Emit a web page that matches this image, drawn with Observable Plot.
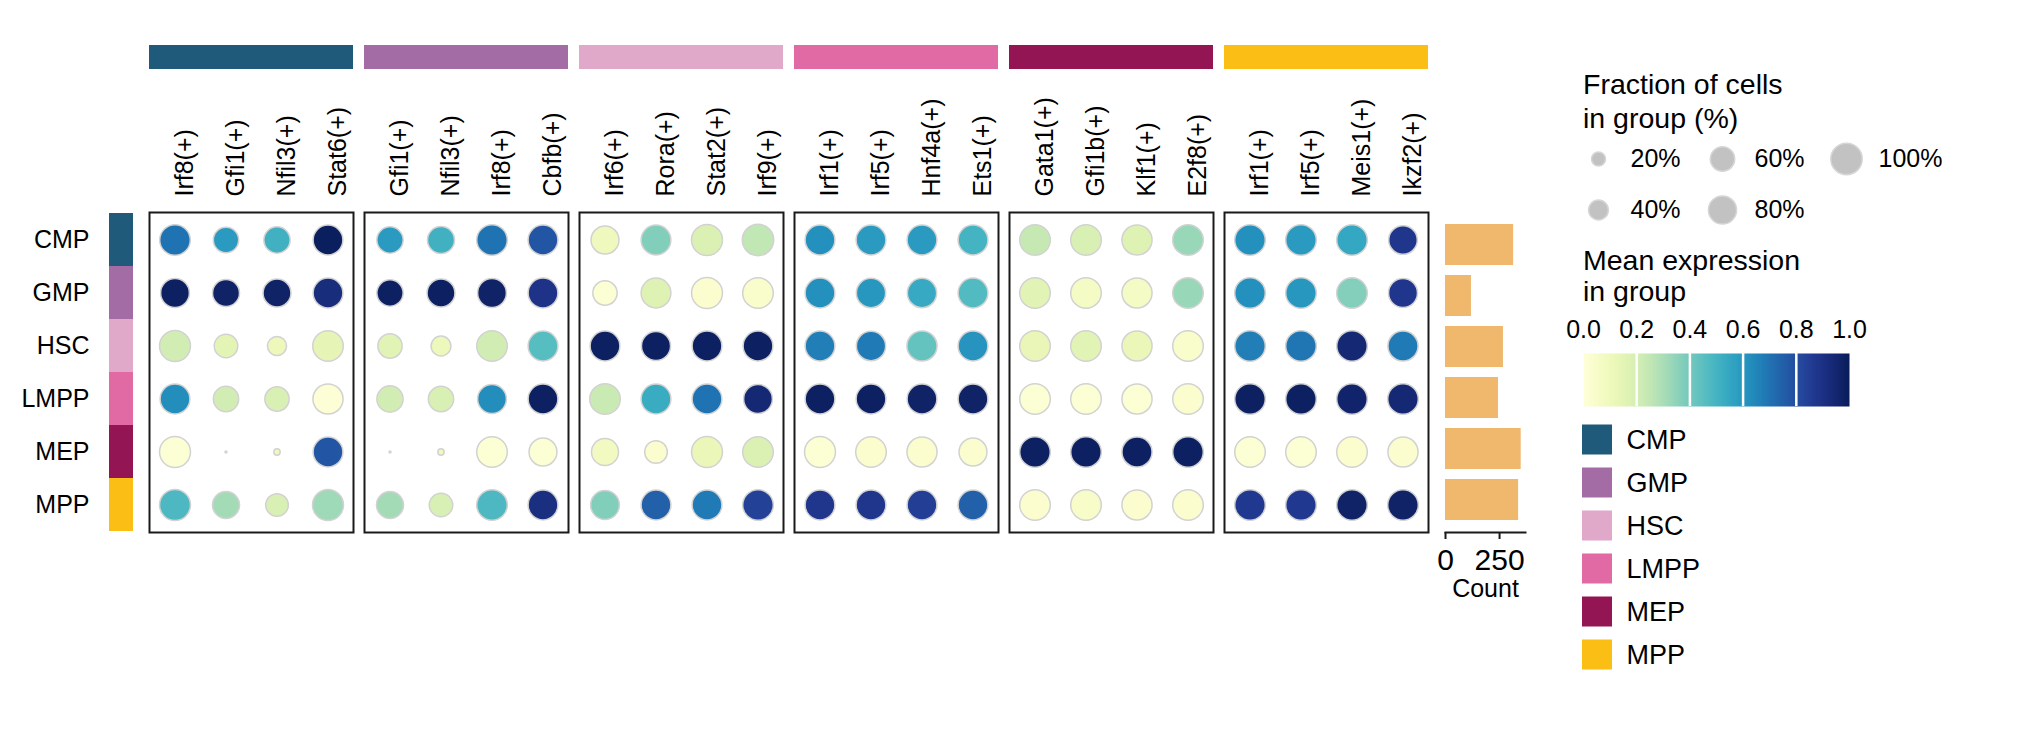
<!DOCTYPE html>
<html><head><meta charset="utf-8">
<script src="https://cdn.jsdelivr.net/npm/d3@7"></script>
<script src="https://cdn.jsdelivr.net/npm/@observablehq/plot@0.6"></script>
<style>
body{margin:0;background:#fff;font-family:"Liberation Sans",Arial,sans-serif;}
#wrap{position:relative;width:2019px;height:745px;overflow:hidden;background:#fff;}
#wrap > *{position:absolute;}
.title{font-size:28.5px;line-height:34px;color:#000;white-space:nowrap;}
</style></head><body><div id="wrap"></div>
<script>
// ---------- data ----------
const cellTypes = ["CMP","GMP","HSC","LMPP","MEP","MPP"];
const groupColors = ["#1f5a7a","#a46ca5","#e0a8c9","#e26aa4","#941553","#fbbe14"];

const genesCMP  = ["Irf8(+)","Gfi1(+)","Nfil3(+)","Stat6(+)"];
const genesGMP  = ["Gfi1(+)","Nfil3(+)","Irf8(+)","Cbfb(+)"];
const genesHSC  = ["Irf6(+)","Rora(+)","Stat2(+)","Irf9(+)"];
const genesLMPP = ["Irf1(+)","Irf5(+)","Hnf4a(+)","Ets1(+)"];
const genesMEP  = ["Gata1(+)","Gfi1b(+)","Klf1(+)","E2f8(+)"];
const genesMPP  = ["Irf1(+)","Irf5(+)","Meis1(+)","Ikzf2(+)"];

// mean expression, rows = cellTypes, cols = genes of the group
const exprCMP  = [[0.70,0.59,0.51,0.99],[0.98,0.97,0.97,0.92],[0.21,0.15,0.11,0.14],[0.63,0.21,0.19,0.01],[0.02,0.10,0.10,0.78],[0.48,0.31,0.19,0.32]];
const exprGMP  = [[0.59,0.51,0.70,0.78],[0.98,0.98,0.97,0.89],[0.16,0.11,0.21,0.46],[0.21,0.19,0.63,0.98],[0.10,0.10,0.02,0.02],[0.31,0.19,0.48,0.91]];
const exprHSC  = [[0.10,0.375,0.18,0.25],[0.02,0.17,0.03,0.04],[0.98,0.98,0.98,0.98],[0.23,0.53,0.70,0.94],[0.08,0.03,0.12,0.18],[0.375,0.75,0.68,0.84]];
const exprLMPP = [[0.62,0.59,0.59,0.50],[0.62,0.60,0.54,0.47],[0.67,0.68,0.43,0.61],[0.98,0.98,0.97,0.97],[0.02,0.03,0.03,0.03],[0.88,0.88,0.85,0.75]];
const exprMEP  = [[0.24,0.19,0.17,0.33],[0.16,0.07,0.07,0.33],[0.13,0.16,0.12,0.04],[0.02,0.02,0.02,0.03],[0.98,0.98,0.98,0.98],[0.03,0.05,0.03,0.03]];
const exprMPP  = [[0.62,0.59,0.55,0.88],[0.62,0.60,0.37,0.88],[0.67,0.69,0.94,0.68],[0.98,0.98,0.96,0.94],[0.02,0.02,0.03,0.03],[0.87,0.87,0.97,0.97]];

// fraction of cells (%)
const fracCMP  = [[95,65,70,90],[84,74,79,90],[97,56,37,95],[90,65,60,92],[97,0.4,4,90],[97,74,52,97]];
const fracGMP  = [[70,74,95,90],[70,79,84,90],[60,40,95,90],[70,65,84,90],[0.4,4,95,79],[74,56,95,90]];
const fracHSC  = [[79,90,97,100],[60,90,97,95],[90,86,90,90],[95,90,90,84],[74,52,97,95],[84,90,90,95]];
const fracLMPP = [[90,90,90,90],[90,87,87,90],[90,87,92,90],[90,90,90,90],[97,95,92,79],[90,90,90,90]];
const fracMEP  = [[95,95,92,95],[95,95,92,95],[95,95,92,95],[95,95,92,95],[95,95,92,95],[95,95,92,95]];
const fracMPP  = [[95,95,95,83],[95,95,95,85],[95,95,95,92],[95,95,95,95],[95,95,95,92],[95,95,95,95]];

const cellCounts = [315,120,268,245,350,338];
const countTicks = [0,250];
const sizeTicks = [20,40,60,80,100];
const colorTicks = [0,0.2,0.4,0.6,0.8,1.0];

// ---------- tables ----------
const groupGenes = [genesCMP,genesGMP,genesHSC,genesLMPP,genesMEP,genesMPP];
const groupExpr = [exprCMP,exprGMP,exprHSC,exprLMPP,exprMEP,exprMPP];
const groupFrac = [fracCMP,fracGMP,fracHSC,fracLMPP,fracMEP,fracMPP];
const dots = [], labels = [];
cellTypes.forEach((g, gi) => groupGenes[gi].forEach((gene, j) => {
  labels.push({group: g, pos: j, gene});
  cellTypes.forEach((ct, ri) => dots.push({group: g, pos: j, gene, cell: ct,
    expr: groupExpr[gi][ri][j], frac: groupFrac[gi][ri][j]}));
}));

const FONT = "'Liberation Sans', Arial, sans-serif";
const rScale = {type: "sqrt", domain: [0, 100], range: [0, 15.7]};
const colorScale = {type: "linear", scheme: "YlGnBu", domain: [0, 1]};
const wrap = document.getElementById("wrap");
function place(el, left, top) { el.style.left = left + "px"; el.style.top = top + "px"; wrap.appendChild(el); }

// ---------- main dot matrix ----------
const main = Plot.plot({
  width: 1440, height: 545,
  marginLeft: 149, marginRight: 12, marginTop: 212, marginBottom: 13,
  style: {fontFamily: FONT, background: "transparent", overflow: "visible"},
  fx: {domain: cellTypes, paddingInner: 11/215, paddingOuter: 0, axis: null},
  x: {type: "band", domain: [0,1,2,3], padding: 0, axis: null},
  y: {type: "band", domain: cellTypes, padding: 0, axis: null},
  color: colorScale,
  r: rScale,
  marks: [
    ...cellTypes.map((g, i) => Plot.rect([g], {fx: d => d, fill: groupColors[i], insetTop: -167, insetBottom: 463})),
    Plot.frame({stroke: "#1a1a1a", strokeWidth: 2}),
    Plot.dot(dots, {fx: "group", x: "pos", y: "cell", r: "frac", fill: "expr", stroke: "#d2d2d2", strokeWidth: 1.5}),
    Plot.text(labels, {fx: "group", x: "pos", text: "gene", frameAnchor: "top", rotate: -90, textAnchor: "start", dy: -16, fontSize: 25, fill: "#000"})
  ]
});
place(main, 0, 0);

// ---------- row labels + strip ----------
const strip = Plot.plot({
  width: 140, height: 545, marginLeft: 109, marginRight: 7, marginTop: 212, marginBottom: 13,
  style: {fontFamily: FONT, background: "transparent", overflow: "visible"},
  y: {domain: cellTypes, padding: 0},
  color: {domain: cellTypes, range: groupColors},
  marks: [
    Plot.cell(cellTypes, {y: d => d, fill: d => d}),
    Plot.axisY({tickSize: 0, tickPadding: 20, fontSize: 25, label: null, fill: "#000"})
  ]
});
place(strip, 0, 0);

// ---------- count bars ----------
const bars = Plot.plot({
  width: 200, height: 620, marginLeft: 45, marginRight: 75, marginTop: 212, marginBottom: 88,
  style: {fontFamily: FONT, background: "transparent", overflow: "visible"},
  x: {domain: [0, 370]},
  y: {domain: cellTypes, padding: 0.2, axis: null},
  marks: [
    Plot.barX(cellTypes, {y: d => d, x: (d, i) => cellCounts[i], fill: "#efb86c"}),
    Plot.frame({anchor: "bottom", stroke: "#1a1a1a", strokeWidth: 2}),
    Plot.axisX({ticks: countTicks, tickSize: 7, tickPadding: 9, fontSize: 30, strokeWidth: 2, label: null, stroke: "#1a1a1a", fill: "#000"}),
    Plot.text(["Count"], {text: d => d, frameAnchor: "bottom", dy: 64, fontSize: 25, fill: "#000"})
  ]
});
place(bars, 1400, 0);

// ---------- legends ----------
const t1 = document.createElement("div");
t1.className = "title"; t1.innerHTML = "Fraction of cells<br>in group (%)";
place(t1, 1583, 67);

const sizeLeg = Plot.plot({
  width: 400, height: 106, marginLeft: 0, marginRight: 26.5, marginTop: 2.5, marginBottom: 1.5,
  style: {fontFamily: FONT, background: "transparent", overflow: "visible"},
  x: {type: "band", domain: [0,1,2], padding: 0, axis: null},
  y: {type: "band", domain: [0,1], padding: 0, axis: null},
  r: rScale,
  marks: [
    Plot.dot(sizeTicks, {x: (d, i) => Math.floor(i / 2), y: (d, i) => i % 2, r: d => d, fill: "#c2c2c2", stroke: "#d6d6d6", strokeWidth: 1.5}),
    Plot.text(sizeTicks, {x: (d, i) => Math.floor(i / 2), y: (d, i) => i % 2, text: d => d + "%", dx: 32, textAnchor: "start", fontSize: 25, fill: "#000"})
  ]
});
place(sizeLeg, 1535, 130);

const t2 = document.createElement("div");
t2.className = "title"; t2.style.lineHeight = "31px"; t2.innerHTML = "Mean expression<br>in group";
place(t2, 1583, 245);

const cbar = Plot.plot({
  width: 310, height: 110, marginLeft: 23, marginRight: 21, marginTop: 53, marginBottom: 4,
  style: {fontFamily: FONT, background: "transparent", overflow: "visible"},
  x: {domain: [0, 1]},
  y: {domain: [0, 1], axis: null},
  color: colorScale,
  marks: [
    Plot.raster({fill: (x, y) => x, x1: 0, x2: 1, y1: 0, y2: 1, width: 266, height: 1}),
    Plot.ruleX(colorTicks.slice(1, -1), {stroke: "white", strokeWidth: 2.5}),
    Plot.axisX({anchor: "top", ticks: colorTicks, tickSize: 0, tickPadding: 16, tickFormat: d => d.toFixed(1), fontSize: 25, label: null, fill: "#000"})
  ]
});
place(cbar, 1560, 300);

const catLeg = Plot.plot({
  width: 200, height: 258, marginLeft: 22, marginRight: 148, marginTop: 0, marginBottom: 0,
  style: {fontFamily: FONT, background: "transparent", overflow: "visible"},
  y: {domain: cellTypes, padding: 0, axis: null},
  color: {domain: cellTypes, range: groupColors},
  marks: [
    Plot.cell(cellTypes, {y: d => d, fill: d => d, insetTop: 6.5, insetBottom: 6.5}),
    Plot.text(cellTypes, {y: d => d, text: d => d, frameAnchor: "left", dx: 44, textAnchor: "start", fontSize: 27, fill: "#000"})
  ]
});
place(catLeg, 1560, 418);
</script></body></html>
